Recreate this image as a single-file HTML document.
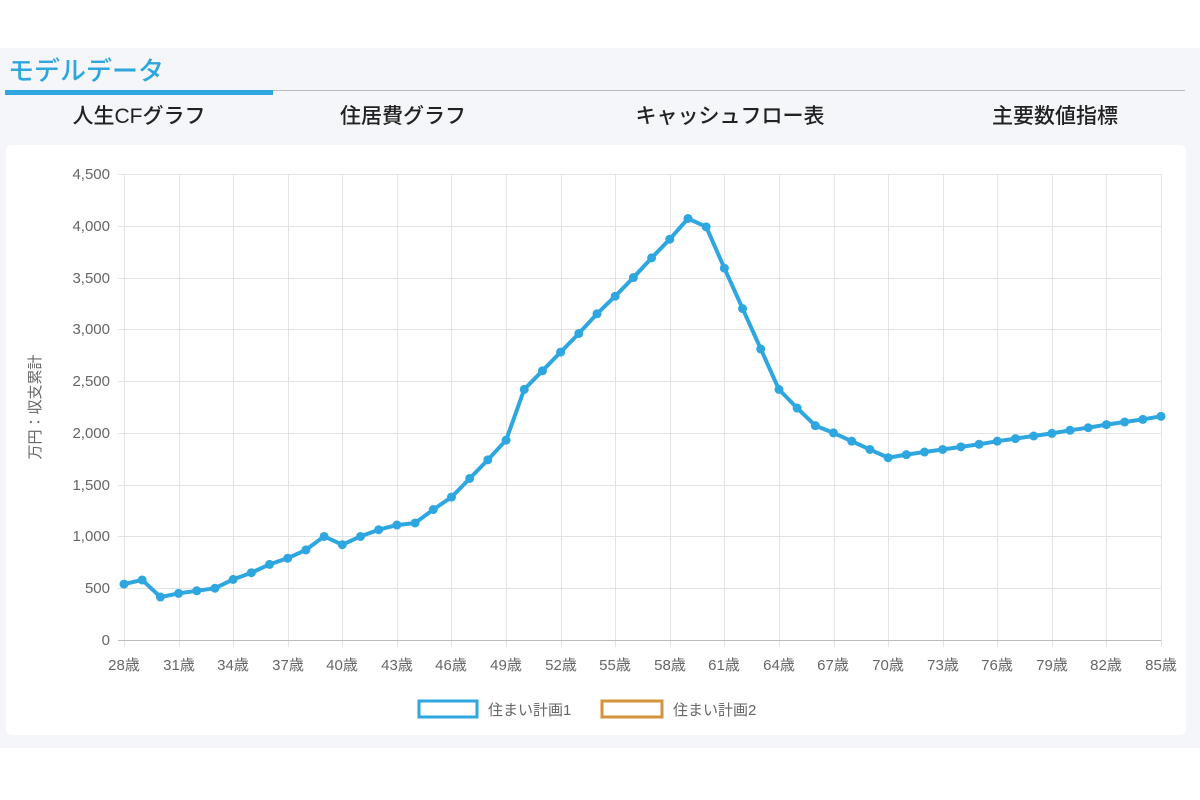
<!DOCTYPE html>
<html><head><meta charset="utf-8"><style>
body{margin:0;width:1200px;height:800px;background:#fff;font-family:"Liberation Sans","Noto Sans CJK JP",sans-serif;position:relative;overflow:hidden}
.panel{position:absolute;left:0;top:48px;width:1200px;height:700px;background:#f4f6f9}
.title{position:absolute;left:8px;top:51px;font-size:26px;color:#2ea7e0;font-weight:500}
.gl{position:absolute;left:5px;top:90px;width:1180px;height:1px;background:#b8bcc2}
.bl{position:absolute;left:5px;top:90px;width:268px;height:5px;background:#2ea7e0}
.tab{position:absolute;top:100px;font-size:21px;font-weight:500;color:#222;transform:translateX(-50%);white-space:nowrap}
.card{position:absolute;left:6px;top:145px;width:1180px;height:590px;background:#fff;border-radius:6px}
svg{position:absolute;left:0;top:0}
</style></head><body>
<div class="panel"></div>
<div class="title">モデルデータ</div>
<div class="gl"></div><div class="bl"></div>
<div class="tab" style="left:139px">人生CFグラフ</div>
<div class="tab" style="left:403px">住居費グラフ</div>
<div class="tab" style="left:730px">キャッシュフロー表</div>
<div class="tab" style="left:1055px">主要数値指標</div>
<div class="card"></div>
<svg width="1200" height="800" font-family="Liberation Sans, Noto Sans CJK JP, sans-serif">
<g id="grid" stroke="#e3e3e3" stroke-width="1"></g>
<line x1="118" y1="640.5" x2="1161" y2="640.5" stroke="#bbb"/>
<g font-size="15" fill="#666" text-anchor="end">
<text x="110" y="645">0</text><text x="110" y="593">500</text><text x="110" y="541">1,000</text><text x="110" y="490">1,500</text><text x="110" y="438">2,000</text><text x="110" y="386">2,500</text><text x="110" y="334">3,000</text><text x="110" y="283">3,500</text><text x="110" y="231">4,000</text><text x="110" y="179">4,500</text>
</g>
<g font-size="15" fill="#666" text-anchor="middle">
<text x="124" y="670">28歳</text><text x="179" y="670">31歳</text><text x="233" y="670">34歳</text><text x="288" y="670">37歳</text><text x="342" y="670">40歳</text><text x="397" y="670">43歳</text><text x="451" y="670">46歳</text><text x="506" y="670">49歳</text><text x="561" y="670">52歳</text><text x="615" y="670">55歳</text><text x="670" y="670">58歳</text><text x="724" y="670">61歳</text><text x="779" y="670">64歳</text><text x="833" y="670">67歳</text><text x="888" y="670">70歳</text><text x="943" y="670">73歳</text><text x="997" y="670">76歳</text><text x="1052" y="670">79歳</text><text x="1106" y="670">82歳</text><text x="1161" y="670">85歳</text>
</g>
<text transform="translate(40,407) rotate(-90)" font-size="15" fill="#666" text-anchor="middle">万円：収支累計</text>
<rect x="419" y="701" width="58" height="16" fill="none" stroke="#2ea7e0" stroke-width="3"/>
<text x="488" y="715" font-size="15" fill="#666">住まい計画1</text>
<rect x="602" y="701" width="60" height="16" fill="none" stroke="#d4943a" stroke-width="3"/>
<text x="673" y="715" font-size="15" fill="#666">住まい計画2</text>
<g id="series"></g>
</svg>
<script>
var d=[540,580,415,450,475,500,585,650,730,790,870,1000,920,1000,1065,1110,1130,1260,1380,1560,1740,1930,2420,2600,2780,2960,3150,3320,3500,3690,3870,4070,3990,3590,3200,2810,2420,2240,2070,2000,1920,1840,1760,1790,1815,1840,1865,1890,1920,1945,1970,1995,2025,2050,2080,2105,2130,2160];
var ns="http://www.w3.org/2000/svg",g=document.getElementById('grid'),s=document.getElementById('series');
function X(i){return 124+i*(1161-124)/57}function Y(v){return 640-v*466/4500}
for(var k=0;k<=9;k++){var l=document.createElementNS(ns,'line');var y=Math.round(Y(k*500))+.5;l.setAttribute('x1',118);l.setAttribute('x2',1161);l.setAttribute('y1',y);l.setAttribute('y2',y);g.appendChild(l);}
for(var k=0;k<20;k++){var l=document.createElementNS(ns,'line');var x=Math.round(X(k*3))+.5;l.setAttribute('x1',x);l.setAttribute('x2',x);l.setAttribute('y1',174);l.setAttribute('y2',647);g.appendChild(l);}
var p=d.map(function(v,i){return X(i).toFixed(1)+','+Y(v).toFixed(1)}).join(' ');
var pl=document.createElementNS(ns,'polyline');pl.setAttribute('points',p);pl.setAttribute('fill','none');pl.setAttribute('stroke','#2ea7e0');pl.setAttribute('stroke-width','4');pl.setAttribute('stroke-linejoin','round');s.appendChild(pl);
d.forEach(function(v,i){var c=document.createElementNS(ns,'circle');c.setAttribute('cx',X(i));c.setAttribute('cy',Y(v));c.setAttribute('r',4.5);c.setAttribute('fill','#2ea7e0');s.appendChild(c);});
</script>
</body></html>
